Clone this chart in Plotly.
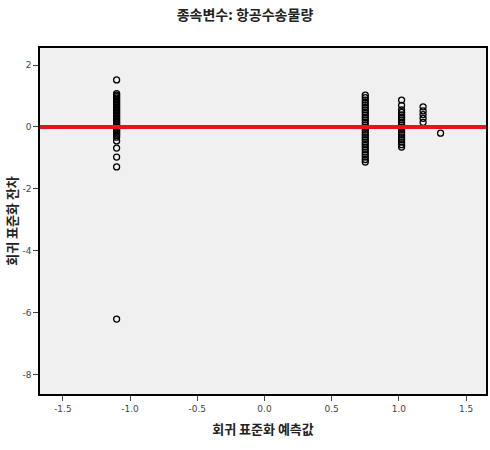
import plotly.graph_objects as go

# Regression standardized predicted values (x) and standardized residuals (y)
group_a_x = -1.10
group_a_y = [1.52, 1.08, 1.03, 0.98, 0.93, 0.88, 0.83, 0.78, 0.73, 0.68, 0.63, 0.58,
             0.53, 0.48, 0.43, 0.38, 0.33, 0.28, 0.23, 0.18, 0.13, 0.08, 0.03,
             -0.02, -0.07, -0.12, -0.17, -0.22, -0.27, -0.33, -0.45, -0.68,
             -0.97, -1.29, -6.20]

group_b_x = 0.75
group_b_y = [1.03, 0.95, 0.87, 0.79, 0.71, 0.63, 0.55, 0.47, 0.39, 0.31, 0.23,
             0.15, 0.07, -0.01, -0.09, -0.17, -0.25, -0.33, -0.41, -0.49,
             -0.57, -0.65, -0.73, -0.81, -0.89, -0.97, -1.05, -1.13]

group_c_x = 1.02
group_c_y = [0.87, 0.70, 0.55, 0.47, 0.39, 0.31, 0.23, 0.15, 0.07, -0.01, -0.09,
             -0.17, -0.25, -0.33, -0.41, -0.49, -0.57, -0.65]

group_d_x = 1.18
group_d_y = [0.65, 0.52, 0.40, 0.28, 0.15]

group_e_x = 1.31
group_e_y = [-0.20]

x_ticks = [-1.5, -1.0, -0.5, 0.0, 0.5, 1.0, 1.5]
x_tick_labels = ["-1.5", "-1.0", "-0.5", "0.0", "0.5", "1.0", "1.5"]
y_ticks = [2, 0, -2, -4, -6, -8]
y_tick_labels = ["2", "0", "-2", "-4", "-6", "-8"]

title_text = "종속변수: 항공수송물량"
x_title = "회귀 표준화 예측값"
y_title = "회귀 표준화 잔차"

xs, ys = [], []
for gx, gy in [(group_a_x, group_a_y), (group_b_x, group_b_y), (group_c_x, group_c_y),
               (group_d_x, group_d_y), (group_e_x, group_e_y)]:
    xs += [gx] * len(gy)
    ys += gy

fig = go.Figure()

fig.add_trace(go.Scatter(
    x=xs, y=ys, mode="markers",
    marker=dict(symbol="circle-open", size=6, color="black", line=dict(width=1.3, color="black")),
    showlegend=False, hoverinfo="x+y",
))

# Zero reference line
fig.add_hline(y=0, line=dict(color="#e3141b", width=4))

kr_font = "Noto Sans CJK KR"

fig.update_layout(
    width=490, height=450,
    margin=dict(l=40, r=2, t=48, b=56),
    paper_bgcolor="white",
    plot_bgcolor="#f0f0f0",
    title=dict(text="<b>" + title_text + "</b>", x=0.5, xanchor="center", y=0.966, yanchor="middle",
               font=dict(family=kr_font, size=14, color="#222")),
    font=dict(family=kr_font, color="#333"),
    xaxis=dict(
        range=[-1.67, 1.648], tickvals=x_ticks, ticktext=x_tick_labels,
        ticks="outside", ticklen=5, tickwidth=1, tickcolor="#444",
        showgrid=False, zeroline=False,
        showline=True, linecolor="black", linewidth=1.5, mirror=True,
        tickfont=dict(family="DejaVu Sans", size=9, color="#444"),
        title=dict(text="<b>" + x_title + "</b>", font=dict(family=kr_font, size=13, color="#222"), standoff=12),
    ),
    yaxis=dict(
        range=[-8.62, 2.55], tickvals=y_ticks, ticktext=y_tick_labels,
        ticks="outside", ticklen=5, tickwidth=1, tickcolor="#444",
        showgrid=False, zeroline=False,
        showline=True, linecolor="black", linewidth=1.5, mirror=True,
        tickfont=dict(family="DejaVu Sans", size=9, color="#444"),
        title=dict(text="<b>" + y_title + "</b>", font=dict(family=kr_font, size=13, color="#222"), standoff=2),
    ),
)

fig.write_html("out.html")
